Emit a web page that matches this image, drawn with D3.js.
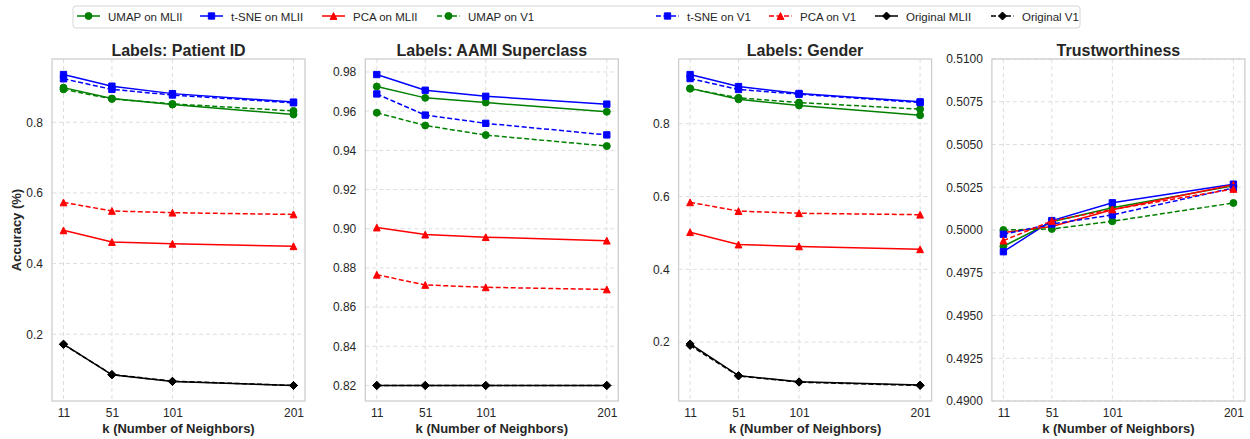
<!DOCTYPE html>
<html>
<head>
<meta charset="utf-8">
<script src="https://cdn.jsdelivr.net/npm/d3@7"></script>
<style>
  body { margin: 0; background: #fff; }
  svg { font-family: "Liberation Sans", Arial, sans-serif; }
</style>
</head>
<body>
<svg id="chart" width="1250" height="439"></svg>
<script>
// ---- data ----
const kValues = [11, 51, 101, 201];
const seriesNames = ["UMAP on MLII", "t-SNE on MLII", "PCA on MLII", "UMAP on V1",
  "t-SNE on V1", "PCA on V1", "Original MLII", "Original V1"];
const panelTitles = ["Labels: Patient ID", "Labels: AAMI Superclass", "Labels: Gender", "Trustworthiness"];

// rows follow seriesNames order
const patientIdAcc = [
  [0.898, 0.867, 0.850, 0.822],
  [0.935, 0.902, 0.881, 0.857],
  [0.494, 0.461, 0.456, 0.449],
  [0.893, 0.866, 0.852, 0.832],
  [0.923, 0.893, 0.877, 0.855],
  [0.573, 0.549, 0.544, 0.539],
  [0.172, 0.085, 0.066, 0.055],
  [0.171, 0.086, 0.067, 0.055]
];
const aamiAcc = [
  [0.9726, 0.9668, 0.9644, 0.9597],
  [0.9787, 0.9707, 0.9676, 0.9636],
  [0.9006, 0.8970, 0.8957, 0.8939],
  [0.9592, 0.9527, 0.9478, 0.9422],
  [0.9688, 0.9580, 0.9538, 0.9479],
  [0.8765, 0.8713, 0.8701, 0.8690],
  [0.8200, 0.8200, 0.8200, 0.8200],
  [0.8200, 0.8200, 0.8200, 0.8200]
];
const genderAcc = [
  [0.897, 0.867, 0.850, 0.823],
  [0.935, 0.902, 0.883, 0.860],
  [0.502, 0.468, 0.463, 0.455],
  [0.896, 0.871, 0.858, 0.840],
  [0.924, 0.894, 0.881, 0.858],
  [0.584, 0.560, 0.554, 0.550],
  [0.195, 0.108, 0.091, 0.082],
  [0.191, 0.107, 0.090, 0.081]
];
// no "Original" rows here
const trustScores = [
  [0.49905, 0.50048, 0.50130, 0.50258],
  [0.49873, 0.50055, 0.50159, 0.50268],
  [0.49985, 0.50020, 0.50118, 0.50265],
  [0.50000, 0.50006, 0.50051, 0.50158],
  [0.49975, 0.50035, 0.50088, 0.50246],
  [0.49938, 0.50053, 0.50120, 0.50240]
];

const accTicks = [0.2, 0.4, 0.6, 0.8];
const aamiTicks = [0.82, 0.84, 0.86, 0.88, 0.90, 0.92, 0.94, 0.96, 0.98];
const trustTicks = [0.49, 0.4925, 0.495, 0.4975, 0.5, 0.5025, 0.505, 0.5075, 0.51];
const trustRange = [0.49, 0.51];

// ---- style ----
const colors = ["green", "blue", "red", "green", "blue", "red", "black", "black"];
const dashed = [false, false, false, true, true, true, false, true];
const markers = ["o", "s", "^", "o", "s", "^", "D", "D"];
const textColor = "#262626";

const panels = [
  { title: panelTitles[0], rows: patientIdAcc, ticks: accTicks, fmt: d3.format(".1f") },
  { title: panelTitles[1], rows: aamiAcc, ticks: aamiTicks, fmt: d3.format(".2f") },
  { title: panelTitles[2], rows: genderAcc, ticks: accTicks, fmt: d3.format(".1f") },
  { title: panelTitles[3], rows: trustScores, ticks: trustTicks, fmt: d3.format(".4f"), domain: trustRange }
];

const svg = d3.select("#chart");
const plotTop = 59, plotBottom = 401, panelW = 253, step = 313.3, firstLeft = 52;

function markerPath(type) {
  if (type === "o") return d3.symbol(d3.symbolCircle, 38)();
  if (type === "s") return d3.symbol(d3.symbolSquare, 40)();
  if (type === "^") { const h = 3.4; return `M0,${-h}L${h},${h}L${-h},${h}Z`; }
  const r = 4; return `M0,${-r}L${r},0L0,${r}L${-r},0Z`;
}

const kExt = d3.extent(kValues);
const kPad = (kExt[1] - kExt[0]) * 0.05;

panels.forEach((p, pi) => {
  const left = firstLeft + pi * step;
  const g = svg.append("g");

  const x = d3.scaleLinear().domain([kExt[0] - kPad, kExt[1] + kPad]).range([left, left + panelW]);
  let dom = p.domain;
  if (!dom) {
    const lo = d3.min(p.rows.flat()), hi = d3.max(p.rows.flat());
    const pad = (hi - lo) * 0.05;
    dom = [lo - pad, hi + pad];
  }
  const y = d3.scaleLinear().domain(dom).range([plotBottom, plotTop]);

  // grid
  g.append("g").selectAll("line").data(p.ticks).join("line")
    .attr("x1", left).attr("x2", left + panelW)
    .attr("y1", d => y(d)).attr("y2", d => y(d))
    .attr("stroke", "#dedede").attr("stroke-width", 1).attr("stroke-dasharray", "4,3");
  g.append("g").selectAll("line").data(kValues).join("line")
    .attr("x1", d => x(d)).attr("x2", d => x(d))
    .attr("y1", plotTop).attr("y2", plotBottom)
    .attr("stroke", "#dedede").attr("stroke-width", 1).attr("stroke-dasharray", "4,3");

  // axes
  const yAx = g.append("g").attr("transform", `translate(${left},0)`)
    .call(d3.axisLeft(y).tickValues(p.ticks).tickSize(0).tickPadding(9).tickFormat(p.fmt));
  yAx.select(".domain").remove();
  yAx.selectAll("text").attr("font-size", 12).attr("fill", textColor)
    .attr("font-family", "Liberation Sans, Arial, sans-serif");

  const xAx = g.append("g").attr("transform", `translate(0,${plotBottom})`)
    .call(d3.axisBottom(x).tickValues(kValues).tickSize(0).tickPadding(7).tickFormat(d3.format("d")));
  xAx.select(".domain").remove();
  xAx.selectAll("text").attr("font-size", 12).attr("fill", textColor)
    .attr("font-family", "Liberation Sans, Arial, sans-serif");

  // series
  const line = d3.line().x((d, i) => x(kValues[i])).y(d => y(d));
  p.rows.forEach((row, si) => {
    g.append("path").datum(row).attr("d", line)
      .attr("fill", "none").attr("stroke", colors[si]).attr("stroke-width", 1.5)
      .attr("stroke-dasharray", dashed[si] ? "5,2.5" : null);
    g.append("g").selectAll("path").data(row).join("path")
      .attr("transform", (d, i) => `translate(${x(kValues[i])},${y(d)})`)
      .attr("d", markerPath(markers[si]))
      .attr("fill", colors[si]).attr("stroke", colors[si]).attr("stroke-width", 1);
  });

  // frame
  g.append("rect").attr("x", left).attr("y", plotTop).attr("width", panelW).attr("height", plotBottom - plotTop)
    .attr("fill", "none").attr("stroke", "#cccccc").attr("stroke-width", 1.25);

  // title + x label
  g.append("text").attr("x", left + panelW / 2).attr("y", 55.5).attr("text-anchor", "middle")
    .attr("font-size", 16).attr("font-weight", "bold").attr("fill", textColor).text(p.title);
  g.append("text").attr("x", left + panelW / 2).attr("y", 432.5).attr("text-anchor", "middle")
    .attr("font-size", 13).attr("font-weight", "bold").attr("fill", textColor).text("k (Number of Neighbors)");
});

svg.append("text").attr("transform", `translate(21,${(plotTop + plotBottom) / 2}) rotate(-90)`)
  .attr("text-anchor", "middle").attr("font-size", 13).attr("font-weight", "bold")
  .attr("fill", textColor).text("Accuracy (%)");

// legend
const legendX = [77, 200, 322, 437, 656, 769, 875, 991];
const leg = svg.append("g");
leg.append("rect").attr("x", 73).attr("y", 6).attr("width", 1007).attr("height", 22).attr("rx", 3)
  .attr("fill", "#fff").attr("stroke", "#d6d6d6").attr("stroke-width", 1);
seriesNames.forEach((name, i) => {
  const lx = legendX[i];
  leg.append("line").attr("x1", lx).attr("x2", lx + 23).attr("y1", 16).attr("y2", 16)
    .attr("stroke", colors[i]).attr("stroke-width", 1.5)
    .attr("stroke-dasharray", dashed[i] ? "5,2.5" : null);
  leg.append("path").attr("transform", `translate(${lx + 11.5},16)`).attr("d", markerPath(markers[i]))
    .attr("fill", colors[i]).attr("stroke", colors[i]).attr("stroke-width", 1);
  leg.append("text").attr("x", lx + 31).attr("y", 20.5).attr("font-size", 11.5)
    .attr("fill", textColor).text(name);
});
</script>
</body>
</html>
